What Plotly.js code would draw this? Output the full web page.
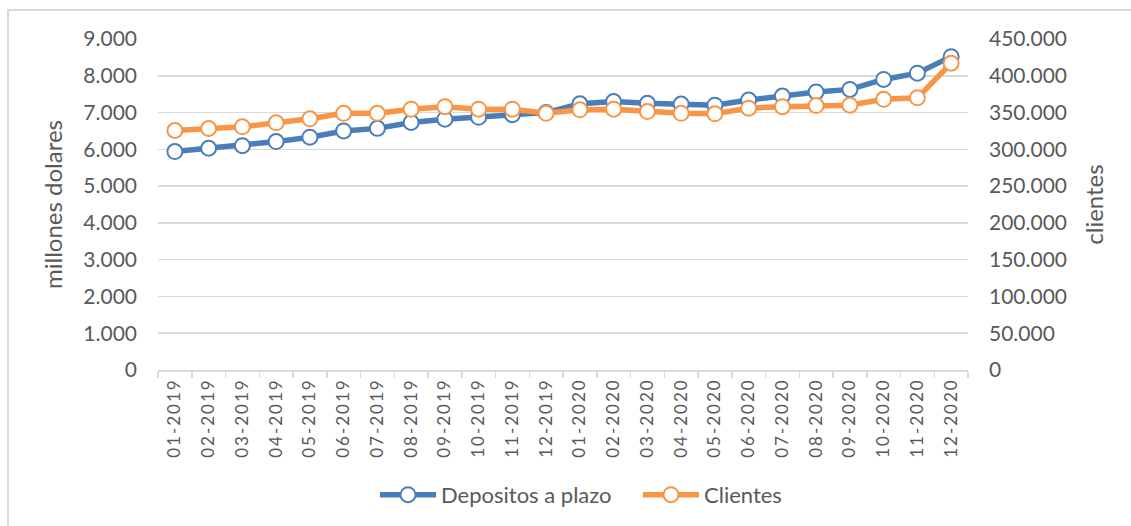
<!DOCTYPE html>
<html>
<head>
<meta charset="utf-8">
<script src="https://cdn.plot.ly/plotly-3.0.1.min.js"></script>
<style>
  html, body { margin: 0; padding: 0; background: #ffffff; }
  #frame { position: absolute; left: 7px; top: 9px; width: 1140px; height: 540px; border: 2px solid #d9d9d9; box-sizing: border-box; }
  #chart { position: absolute; left: 0; top: 0; width: 1131px; height: 526px; }
  #chart .xtick text { letter-spacing: 2px; }
</style>
</head>
<body>
<div id="frame"></div>
<div id="chart"></div>
<script>
const categories = ["01-2019","02-2019","03-2019","04-2019","05-2019","06-2019","07-2019","08-2019","09-2019","10-2019","11-2019","12-2019",
                    "01-2020","02-2020","03-2020","04-2020","05-2020","06-2020","07-2020","08-2020","09-2020","10-2020","11-2020","12-2020"];
const depositosPlazo = [5940, 6030, 6100, 6210, 6330, 6500, 6570, 6730, 6820, 6870, 6940, 7000,
                        7240, 7300, 7250, 7230, 7200, 7340, 7450, 7560, 7630, 7900, 8070, 8520];
const clientes = [325600, 328300, 330600, 336000, 341500, 349000, 349000, 354600, 358000, 354600, 354600, 349000,
                  353700, 354600, 351400, 349000, 348300, 356000, 358000, 359500, 360000, 368000, 370000, 417000];
const seriesNames = ["Depositos a plazo", "Clientes"];
const leftTitle = "millones dolares";
const rightTitle = "clientes";

const FONT = "Lato, 'Liberation Sans', sans-serif";
const TXT = "#595959";
const GRID = "#d9d9d9";
const BLUE = "#4A7EBB";
const ORANGE = "#F79646";

const traces = [
  {
    x: categories, y: depositosPlazo, name: seriesNames[0], type: "scatter", mode: "lines+markers",
    yaxis: "y",
    line: { color: BLUE, width: 5.5 },
    marker: { symbol: "circle", size: 15, color: "#ffffff", line: { color: BLUE, width: 2 } }
  },
  {
    x: categories, y: clientes, name: seriesNames[1], type: "scatter", mode: "lines+markers",
    yaxis: "y2",
    line: { color: ORANGE, width: 5.5 },
    marker: { symbol: "circle", size: 15, color: "#ffffff", line: { color: ORANGE, width: 2 } }
  }
];

const layout = {
  width: 1131, height: 526,
  margin: { l: 158, r: 163, t: 39, b: 155 },
  paper_bgcolor: "rgba(0,0,0,0)",
  plot_bgcolor: "rgba(0,0,0,0)",
  separators: ",.",
  font: { family: FONT, color: TXT, size: 21 },
  showlegend: true,
  legend: {
    orientation: "h", x: 0.5926, xanchor: "center", y: -0.373, yanchor: "middle",
    font: { family: FONT, size: 22, color: TXT }, itemwidth: 56, entrywidth: 192, traceorder: "normal"
  },
  xaxis: {
    type: "category", range: [-0.5, 23.5],
    showgrid: false, showline: true, linecolor: GRID, linewidth: 1.5,
    ticks: "outside", tickson: "boundaries", ticklen: 6, tickcolor: GRID, tickwidth: 1.5,
    tickangle: -90, tickfont: { family: FONT, size: 17, color: TXT },
    automargin: false, fixedrange: true
  },
  yaxis: {
    range: [0, 9000], dtick: 1000, tick0: 0, tickformat: ",d",
    showgrid: true, gridcolor: GRID, gridwidth: 1.5, zeroline: false, showline: false,
    ticks: "", ticklabelstandoff: 20, tickfont: { family: FONT, size: 21, color: TXT },
    title: { text: leftTitle, font: { family: FONT, size: 24, color: TXT }, standoff: 13 },
    automargin: false, fixedrange: true
  },
  yaxis2: {
    overlaying: "y", side: "right",
    range: [0, 450000], dtick: 50000, tick0: 0, tickformat: ",d",
    showgrid: false, zeroline: false, showline: false,
    ticks: "", ticklabelstandoff: 20, tickfont: { family: FONT, size: 21, color: TXT },
    title: { text: rightTitle, font: { family: FONT, size: 24, color: TXT }, standoff: 20 },
    automargin: false, fixedrange: true
  }
};

Plotly.newPlot("chart", traces, layout, { displayModeBar: false, staticPlot: true });
</script>
</body>
</html>
